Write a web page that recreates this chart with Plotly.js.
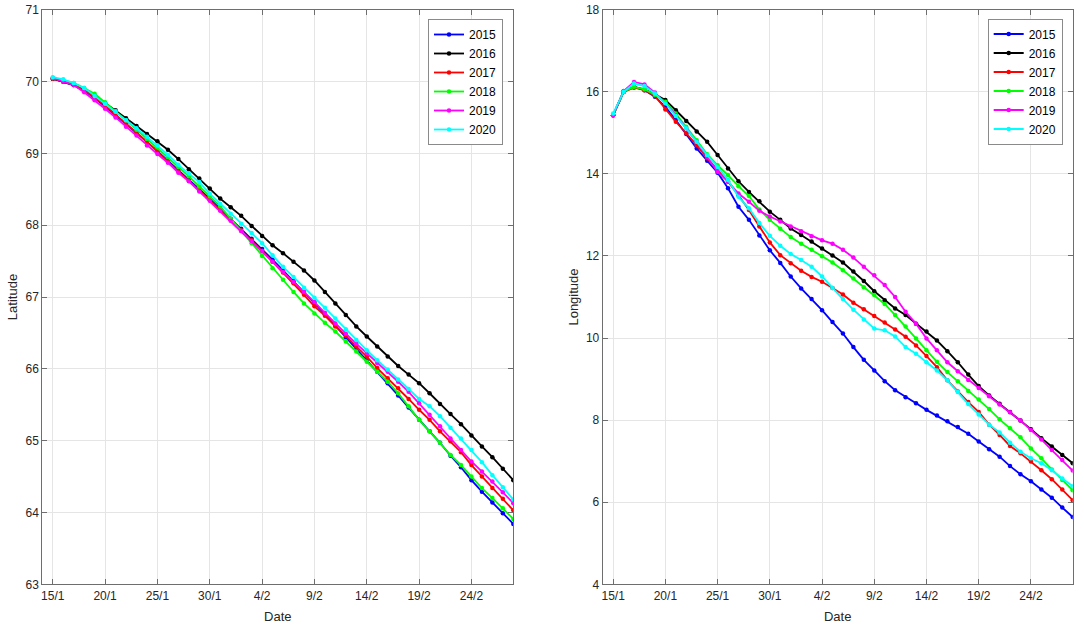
<!DOCTYPE html>
<html>
<head>
<meta charset="utf-8">
<script src="https://cdn.plot.ly/plotly-3.0.1.min.js"></script>
<style>html,body{margin:0;padding:0;background:#fff}#chart{width:1084px;height:627px}</style>
</head>
<body>
<div id="chart"></div>
<script>
// Daily dates from 15/1 to 28/2
const nDays = 45;
const dates = [];
for (let i = 0; i < nDays; i++) {
  const d = new Date(Date.UTC(2015, 0, 15 + i));
  dates.push(d.toISOString().slice(0, 10));
}

const years = ['2015', '2016', '2017', '2018', '2019', '2020'];
const colors = ['#0000ff', '#000000', '#ff0000', '#00ff00', '#ff00ff', '#00ffff'];

// Latitude
const lat2015 = [70.04,70.0,69.95,69.87,69.77,69.65,69.53,69.41,69.28,69.16,
  69.03,68.9,68.77,68.64,68.51,68.37,68.23,68.09,67.95,67.81,
  67.67,67.52,67.37,67.22,67.07,66.92,66.76,66.6,66.44,66.28,
  66.12,65.96,65.8,65.63,65.46,65.29,65.13,64.97,64.79,64.63,
  64.45,64.29,64.14,63.99,63.84];
const lat2016 = [70.04,70.0,69.95,69.88,69.8,69.7,69.6,69.49,69.38,69.27,
  69.17,69.05,68.92,68.78,68.65,68.51,68.37,68.25,68.13,67.99,
  67.85,67.72,67.61,67.49,67.37,67.23,67.07,66.91,66.75,66.59,
  66.45,66.31,66.17,66.04,65.92,65.8,65.66,65.51,65.37,65.23,
  65.07,64.92,64.77,64.61,64.45];
const lat2017 = [70.04,70.0,69.96,69.88,69.78,69.67,69.54,69.42,69.29,69.16,
  69.02,68.89,68.75,68.62,68.49,68.35,68.21,68.07,67.93,67.79,
  67.64,67.49,67.34,67.19,67.03,66.87,66.74,66.59,66.46,66.31,
  66.17,66.01,65.87,65.73,65.58,65.43,65.29,65.13,64.99,64.84,
  64.66,64.5,64.34,64.19,64.03];
const lat2018 = [70.05,70.01,69.98,69.91,69.83,69.71,69.59,69.46,69.33,69.2,
  69.08,68.95,68.81,68.68,68.54,68.4,68.26,68.09,67.92,67.75,
  67.57,67.4,67.24,67.07,66.91,66.77,66.64,66.52,66.38,66.24,
  66.1,65.96,65.82,65.66,65.48,65.29,65.13,64.97,64.8,64.66,
  64.5,64.34,64.2,64.06,63.91];
const lat2019 = [70.05,70.0,69.95,69.85,69.74,69.62,69.5,69.37,69.25,69.11,
  68.99,68.87,68.73,68.61,68.47,68.34,68.2,68.06,67.92,67.78,
  67.64,67.49,67.35,67.21,67.07,66.93,66.78,66.63,66.49,66.35,
  66.22,66.08,65.96,65.82,65.68,65.52,65.36,65.2,65.03,64.87,
  64.71,64.57,64.43,64.28,64.13];
const lat2020 = [70.06,70.03,69.98,69.91,69.8,69.69,69.58,69.46,69.35,69.23,
  69.11,68.98,68.84,68.72,68.6,68.44,68.3,68.16,68.02,67.89,
  67.75,67.58,67.42,67.28,67.13,66.99,66.85,66.7,66.55,66.4,
  66.26,66.12,65.99,65.85,65.72,65.58,65.48,65.34,65.18,65.03,
  64.87,64.7,64.52,64.35,64.18];

// Longitude
const lon2015 = [15.43,16.0,16.12,16.04,15.88,15.63,15.31,14.97,14.62,14.32,
  14.03,13.65,13.2,12.88,12.5,12.14,11.83,11.5,11.21,10.95,
  10.68,10.39,10.11,9.78,9.47,9.21,8.95,8.73,8.56,8.41,
  8.25,8.11,7.97,7.83,7.67,7.48,7.29,7.11,6.88,6.68,
  6.51,6.31,6.11,5.87,5.64];
const lon2016 = [15.43,16.0,16.12,16.06,15.94,15.8,15.55,15.29,15.03,14.78,
  14.46,14.13,13.82,13.56,13.33,13.08,12.88,12.67,12.51,12.35,
  12.18,12.01,11.84,11.62,11.39,11.14,10.92,10.72,10.56,10.35,
  10.16,9.94,9.68,9.41,9.11,8.83,8.6,8.4,8.2,7.99,
  7.78,7.56,7.36,7.15,6.95];
const lon2017 = [15.43,16.0,16.1,16.04,15.9,15.57,15.27,14.99,14.7,14.38,
  14.09,13.81,13.48,13.12,12.72,12.33,12.02,11.82,11.64,11.49,
  11.37,11.22,11.06,10.86,10.7,10.54,10.38,10.21,10.03,9.82,
  9.56,9.29,8.97,8.7,8.44,8.2,7.89,7.64,7.37,7.19,
  6.99,6.78,6.56,6.31,6.05];
const lon2018 = [15.43,16.0,16.12,16.06,15.93,15.76,15.47,15.15,14.82,14.48,
  14.21,13.97,13.7,13.46,13.13,12.88,12.66,12.46,12.3,12.15,
  11.99,11.84,11.65,11.45,11.24,11.05,10.83,10.56,10.28,9.99,
  9.7,9.42,9.17,8.95,8.71,8.5,8.27,8.02,7.8,7.58,
  7.31,7.07,6.8,6.54,6.29];
const lon2019 = [15.43,16.02,16.24,16.18,15.98,15.72,15.43,15.11,14.78,14.42,
  14.05,13.81,13.52,13.32,13.1,12.96,12.84,12.72,12.6,12.48,
  12.38,12.3,12.15,11.96,11.74,11.53,11.29,11.0,10.64,10.35,
  9.99,9.7,9.41,9.19,8.98,8.78,8.58,8.38,8.19,7.99,
  7.76,7.53,7.27,7.03,6.77];
const lon2020 = [15.47,16.0,16.2,16.14,15.96,15.72,15.41,15.11,14.78,14.46,
  14.17,13.85,13.44,13.16,12.8,12.49,12.25,12.05,11.9,11.74,
  11.5,11.22,10.95,10.69,10.45,10.23,10.19,10.04,9.78,9.62,
  9.41,9.21,8.97,8.69,8.39,8.14,7.89,7.7,7.45,7.23,
  7.07,6.95,6.78,6.58,6.39];

const latSeries = [lat2015, lat2016, lat2017, lat2018, lat2019, lat2020];
const lonSeries = [lon2015, lon2016, lon2017, lon2018, lon2019, lon2020];

const traces = [];
latSeries.forEach((ys, i) => traces.push({
  x: dates, y: ys, name: years[i], type: 'scatter', mode: 'lines+markers',
  line: {color: colors[i], width: 1.8}, marker: {color: colors[i], size: 4.5},
  xaxis: 'x', yaxis: 'y', legend: 'legend'
}));
lonSeries.forEach((ys, i) => traces.push({
  x: dates, y: ys, name: years[i], type: 'scatter', mode: 'lines+markers',
  line: {color: colors[i], width: 1.8}, marker: {color: colors[i], size: 4.5},
  xaxis: 'x2', yaxis: 'y2', legend: 'legend2'
}));

const FONT = 'Liberation Sans, Arial, Helvetica, sans-serif';
const axisCommon = {
  showline: true, linecolor: '#6e6e6e', linewidth: 1, mirror: 'ticks',
  ticks: 'inside', ticklen: 5, tickcolor: '#6e6e6e',
  showgrid: true, gridcolor: '#e5e5e5', gridwidth: 1, zeroline: false,
  tickfont: {family: FONT, size: 12, color: '#262626'}
};
const xCommon = Object.assign({}, axisCommon, {
  type: 'date', range: ['2015-01-14', '2015-02-28'],
  tick0: '2015-01-15', dtick: 5 * 86400000, tickformat: '%-d/%-m',
  title: {text: 'Date', font: {family: FONT, size: 13, color: '#262626'}, standoff: 10}
});

const legendCommon = {
  bgcolor: '#ffffff', bordercolor: '#8a8a8a', borderwidth: 1,
  font: {family: FONT, size: 12, color: '#000'},
  xanchor: 'right', yanchor: 'top', itemwidth: 30, tracegroupgap: 0
};

const layout = {
  width: 1084, height: 627,
  margin: {l: 0, r: 0, t: 0, b: 0},
  paper_bgcolor: '#ffffff', plot_bgcolor: '#ffffff',
  font: {family: FONT, size: 12, color: '#262626'},
  xaxis: Object.assign({}, xCommon, {domain: [42.3/1084, 513.3/1084], anchor: 'y'}),
  xaxis2: Object.assign({}, xCommon, {domain: [602.7/1084, 1072.7/1084], anchor: 'y2'}),
  yaxis: Object.assign({}, axisCommon, {
    domain: [1 - 584.3/627, 1 - 9.7/627], range: [63, 71], dtick: 1, anchor: 'x',
    title: {text: 'Latitude', font: {family: FONT, size: 13, color: '#262626'}, standoff: 4}
  }),
  yaxis2: Object.assign({}, axisCommon, {
    domain: [1 - 584.3/627, 1 - 9.7/627], range: [4, 18], dtick: 2, anchor: 'x2',
    title: {text: 'Longitude', font: {family: FONT, size: 13, color: '#262626'}, standoff: 4}
  }),
  legend: Object.assign({}, legendCommon, {x: 503/1084, y: 1 - 19/627}),
  legend2: Object.assign({}, legendCommon, {x: 1062.7/1084, y: 1 - 18.5/627}),
  showlegend: true
};

Plotly.newPlot('chart', traces, layout, {displayModeBar: false, staticPlot: true});
</script>
</body>
</html>
